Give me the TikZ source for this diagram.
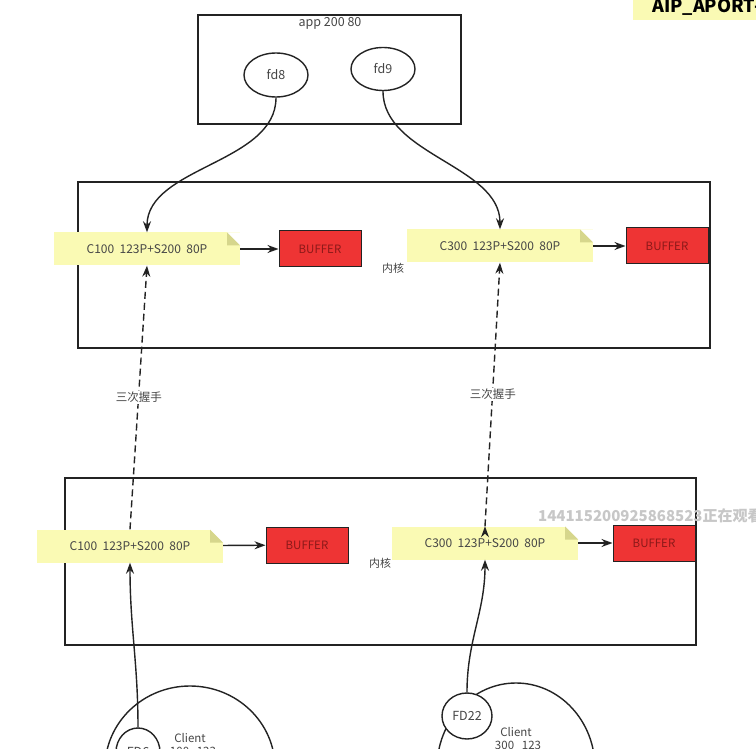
\documentclass[tikz,border=0pt]{standalone}
\usepackage{fontspec}
\setmainfont{Noto Sans CJK SC}
\usepackage{tikz}
\usetikzlibrary{shapes.geometric,arrows.meta,positioning}

\definecolor{notefill}{RGB}{250,250,180}
\definecolor{notefold}{RGB}{214,214,140}
\definecolor{buffill}{RGB}{238,52,52}
\definecolor{buftext}{RGB}{140,25,25}
\definecolor{linecol}{RGB}{35,35,35}
\definecolor{txtcol}{RGB}{70,70,70}

\tikzset{
	frame/.style={draw=linecol, line width=1.5pt},
	fd/.style={ellipse, draw=linecol, line width=1.4pt, fill=white, text=txtcol, inner sep=0pt, font=\fontsize{12.5}{14}\selectfont},
	client/.style={ellipse, draw=linecol, line width=1.4pt, inner sep=0pt},
	note/.style={fill=notefill, text=txtcol, minimum width=186pt, minimum height=33pt, inner sep=0pt, font=\fontsize{12}{14}\selectfont,
		path picture={
			\fill[white] ([xshift=-13pt]path picture bounding box.north east) -- (path picture bounding box.north east) -- ([yshift=-13pt]path picture bounding box.north east) -- cycle;
			\fill[notefold] ([xshift=-13pt]path picture bounding box.north east) -- ([xshift=-13pt,yshift=-13pt]path picture bounding box.north east) -- ([yshift=-13pt]path picture bounding box.north east) -- cycle;
		}},
	buffer/.style={draw=linecol, line width=1pt, fill=buffill, text=buftext, minimum width=82pt, minimum height=36pt, inner sep=0pt, font=\fontsize{11.5}{13}\selectfont},
	label/.style={text=txtcol, inner sep=1pt, font=\fontsize{11.5}{13}\selectfont},
	link/.style={draw=linecol, line width=1.4pt, -{Stealth[length=11pt,width=8pt]}},
}

\begin{document}
\begin{tikzpicture}[x=1pt,y=-1pt]
		\useasboundingbox (0,0) rectangle (756,749);
		\clip (0,0) rectangle (756,749);
		\fill[white] (0,0) rectangle (756,749);

		% app
		\draw[frame] (198,15) rectangle (461,124);
		\draw (330,23) node[label, font=\fontsize{12.5}{14}\selectfont] (app) {app 200 80};
		\draw (276,75) node[fd, minimum width=64pt, minimum height=44pt] (fd8) {fd8};
		\draw (383,69) node[fd, minimum width=64pt, minimum height=43pt] (fd9) {fd9};

		% kernel 1
		\draw[frame] (78,182) rectangle (710,348);
		\draw (147,249) node[note] (n1) {C100\ \ 123P+S200\ \ 80P};
		\draw (320,249) node[buffer] (b1) {BUFFER};
		\draw (500,246) node[note] (n2) {C300\ \ 123P+S200\ \ 80P};
		\draw (667,246) node[buffer] (b2) {BUFFER};
		\draw (393,268) node[label, font=\fontsize{11}{12}\selectfont] (k1) {内核};

		% kernel 2
		\draw[frame] (65,478) rectangle (696,645);
		\draw (130,546) node[note] (n3) {C100\ \ 123P+S200\ \ 80P};
		\draw (307,545) node[buffer] (b3) {BUFFER};
		\draw (485,543) node[note] (n4) {C300\ \ 123P+S200\ \ 80P};
		\draw (654,543) node[buffer] (b4) {BUFFER};
		\draw (380,563) node[label, font=\fontsize{11}{12}\selectfont] (k2) {内核};

		% clients
		\draw (190,768) node[client, minimum width=170pt, minimum height=164pt] (cl1) {};
		\draw (516,768) node[client, minimum width=158pt, minimum height=170pt] (cl2) {};
		\draw (190,738) node[label] (cl1a) {Client};
		\draw (193,751) node[label] (cl1b) {100\ \ \ 123};
		\draw (516,732) node[label] (cl2a) {Client};
		\draw (518,745) node[label] (cl2b) {300\ \ \ 123};
		\draw (138,752) node[fd, minimum width=44pt, minimum height=48pt] (fd6) {FD6};
		\draw (467,716) node[fd, minimum width=50pt, minimum height=46pt] (fd22) {FD22};

		\path[link]
			(n1)	edge	(b1)
			(n2)	edge	(b2)
			(n3)	edge	(b3)
			(n4)	edge	(b4)
			(fd8.south)		edge	[out=-90, in=90, looseness=0.9]	(n1.north)
			(fd9.south)		edge	[out=-90, in=90, looseness=0.9]	(n2.north)
			(fd6.north)		edge	[out=90, in=-90]	(n3.south)
			(fd22.north)	edge	[out=90, in=-90]	(n4.south)
			(n3.north)	edge	[dash pattern=on 7pt off 4pt]	node	[label, fill=white, left=-25pt]	{三次握手}	(n1.south)
			(n4.north)	edge	[dash pattern=on 7pt off 4pt]	node	[label, fill=white, left=-25pt]	{三次握手}	(n2.south)
			;

		% overlays
		\fill[notefill] (633,0) rectangle (756,20);
		\draw (652,13) node[anchor=base west, inner sep=0pt, font=\fontsize{18}{20}\selectfont\bfseries] (aip) {AIP\_APORT-};
		\draw (538,516) node[anchor=west, inner sep=0pt, text=black!22, font=\fontsize{15}{16}\selectfont\bfseries] (watch) {144115200925868523正在观看};
	\end{tikzpicture}
\end{document}
